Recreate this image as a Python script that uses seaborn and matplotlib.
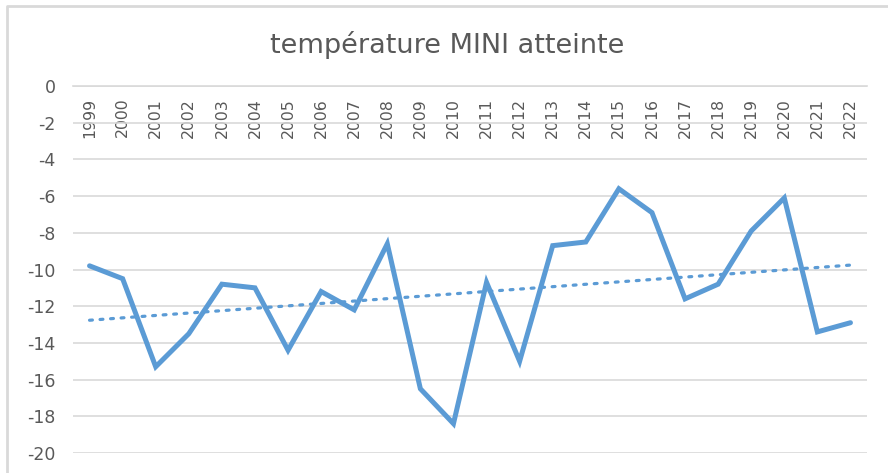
import numpy as np
import pandas as pd
import matplotlib.pyplot as plt
import matplotlib.lines as mlines
import seaborn as sns

years = [str(y) for y in range(1999, 2023)]
temp_min = [-9.8, -10.5, -15.3, -13.5, -10.8, -11.0, -14.4, -11.2, -12.2, -8.6,
            -16.5, -18.4, -10.7, -15.0, -8.7, -8.5, -5.6, -6.9, -11.6, -10.8,
            -7.9, -6.1, -13.4, -12.9]
y_ticks = list(range(0, -22, -2))

BLUE = '#5B9BD5'
GRID = '#D9D9D9'
TXT = '#595959'

sns.set_theme(style='white')
plt.rcParams['font.family'] = ['DejaVu Sans']

df = pd.DataFrame({'annee': years, 'tmin': temp_min})
df['pos'] = np.arange(len(df))

# linear trend line (Excel "courbe de tendance")
coef = np.polyfit(df['pos'], df['tmin'], 1)
df['trend'] = np.polyval(coef, df['pos'])

fig = plt.figure(figsize=(8.88, 4.73), dpi=100)
ax = fig.add_axes([73 / 888, 1 - 453 / 473, 794 / 888, 367 / 473])

# chart frame: only the left and top edges are inside the screenshot
fx, fy = 6.5 / 888, 1 - 6.5 / 473
fig.add_artist(mlines.Line2D([fx, fx, 1.0], [0.0, fy, fy], transform=fig.transFigure,
                             color=GRID, lw=2))

sns.lineplot(data=df, x='pos', y='trend', ax=ax, color=BLUE, lw=2.3,
             linestyle=(0, (0.9, 2.4)), dash_capstyle='round')
sns.lineplot(data=df, x='pos', y='tmin', ax=ax, color=BLUE, lw=3.6,
             solid_joinstyle='miter')

ax.set_xlim(-0.5, len(years) - 0.5)
ax.set_ylim(-20, 0)
ax.set_yticks(y_ticks)
ax.set_yticklabels([str(t) for t in y_ticks], color=TXT, fontsize=12.5)
ax.yaxis.grid(True, color=GRID, lw=1.2)
ax.xaxis.grid(False)

# category axis crosses at 0 (top), labels hang below it
ax.spines['bottom'].set_position(('data', 0))
ax.spines['bottom'].set_color(GRID)
ax.spines['bottom'].set_linewidth(1.2)
for s in ['top', 'left', 'right']:
    ax.spines[s].set_visible(False)
ax.set_xticks(df['pos'])
ax.set_xticklabels(years, rotation=90, color=TXT, fontsize=11.3)
ax.tick_params(axis='x', length=0, pad=8.5)
ax.tick_params(axis='y', length=0, pad=12.5)
ax.set_xlabel('')
ax.set_ylabel('')

fig.text(0.504, 1 - 45 / 473, 'température MINI atteinte', ha='center', va='center',
         color=TXT, fontsize=19.5)

plt.savefig('out.png', dpi=100)
